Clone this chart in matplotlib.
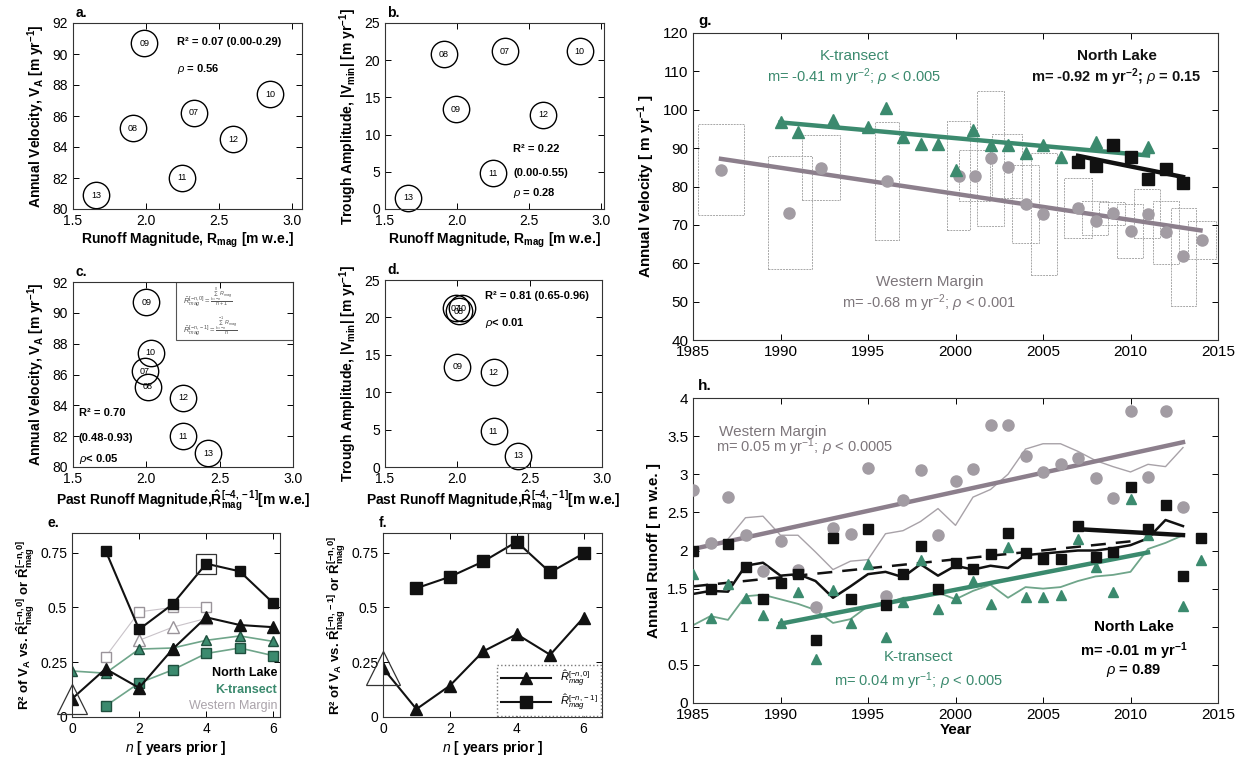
import numpy as np
import matplotlib
matplotlib.use("Agg")
import matplotlib.pyplot as plt
from matplotlib.patches import Rectangle

plt.rcParams['font.family'] = ['Liberation Sans', 'DejaVu Sans']
plt.rcParams['mathtext.fontset'] = 'custom'
plt.rcParams['mathtext.rm'] = 'Liberation Sans'
plt.rcParams['mathtext.it'] = 'Liberation Sans:italic'
plt.rcParams['mathtext.bf'] = 'Liberation Sans:bold'

# ---- panels a-d : yearly points 2007-2013 ----
yr_labels = ["07", "08", "09", "10", "11", "12", "13"]
r_mag = [2.33, 1.91, 1.99, 2.85, 2.25, 2.60, 1.66]
r_past = [1.99, 2.01, 2.00, 2.03, 2.25, 2.25, 2.42]
v_annual = [86.2, 85.2, 90.7, 87.4, 82.0, 84.5, 80.9]
trough = [21.2, 20.8, 13.4, 21.2, 4.8, 12.7, 1.5]

# ---- panel e : R2 vs n years prior ----
n_all = [0, 1, 2, 3, 4, 5, 6]
n_prior = [1, 2, 3, 4, 5, 6]
nl_tri_e = [0.083, 0.22, 0.133, 0.31, 0.455, 0.42, 0.41]
nl_sq_e = [0.76, 0.40, 0.515, 0.70, 0.665, 0.52]
kt_tri_e = [0.21, 0.20, 0.31, 0.315, 0.35, 0.37, 0.345]
kt_sq_e = [0.05, 0.155, 0.215, 0.29, 0.315, 0.28]
wm_n_sq = [1, 2, 3, 4]
wm_sq_e = [0.275, 0.48, 0.50, 0.50]
wm_n_tri = [2, 3, 4]
wm_tri_e = [0.35, 0.41, 0.45]

# ---- panel f ----
f_tri = [0.223, 0.036, 0.143, 0.30, 0.378, 0.284, 0.454]
f_sq = [0.588, 0.64, 0.71, 0.80, 0.66, 0.747]

# ---- panel g : annual velocity ----
kt_vel_years = [1990, 1991, 1993, 1995, 1996, 1997, 1998, 1999, 2000, 2001, 2002,
                2003, 2004, 2005, 2006, 2008, 2011]
kt_vel = [96.8, 94.1, 97.2, 95.6, 100.4, 92.8, 91.0, 91.0, 84.4, 94.7, 90.8,
          90.8, 88.7, 90.8, 87.7, 91.5, 90.2]
nl_vel_years = [2007, 2008, 2009, 2010, 2011, 2012, 2013]
nl_vel = [86.3, 85.3, 90.8, 87.7, 82.0, 84.6, 80.9]
wm_vel_years = [1986.6, 1990.5, 1992.3, 1996.1, 2000.2, 2001.1, 2002.0, 2003.0, 2004.0,
                2005.0, 2007.0, 2008.0, 2009.0, 2010.0, 2011.0, 2012.0, 2013.0, 2014.1]
wm_vel = [84.3, 73.1, 84.9, 81.4, 82.7, 82.8, 87.4, 85.0, 75.4,
          72.8, 74.5, 71.1, 73.1, 68.5, 72.8, 68.1, 61.9, 66.1]
box_x0 = [1985.3, 1989.3, 1991.25, 1995.4, 1999.5, 2000.2, 2001.2, 2002.1, 2003.2,
          2004.3, 2006.2, 2007.2, 2008.2, 2009.2, 2010.2, 2011.3, 2012.3, 2013.3]
box_x1 = [1987.9, 1991.8, 1993.4, 1996.75, 2000.85, 2001.95, 2002.8, 2003.8, 2004.75,
          2005.8, 2007.8, 2008.7, 2009.7, 2010.7, 2011.7, 2012.75, 2013.75, 2014.9]
box_lo = [72.5, 58.5, 76.4, 66.1, 68.6, 76.2, 69.8, 77.0, 65.2,
          57.0, 66.7, 67.3, 69.9, 61.4, 66.7, 59.7, 48.8, 61.1]
box_hi = [96.3, 87.9, 93.4, 96.7, 97.1, 89.4, 105.0, 93.7, 85.5,
          88.7, 82.2, 76.2, 76.0, 75.5, 79.3, 76.2, 74.5, 71.1]
# trend lines: start year, end year, value at start, slope
g_trend_kt = (1990, 2011, 96.7, -0.41)
g_trend_nl = (2007, 2013, 88.0, -0.92)
g_trend_wm = (1986.6, 2014, 87.2, -0.68)

# ---- panel h : annual runoff ----
h_years = list(range(1985, 2015))
nl_run = [1.99, 1.49, 2.08, 1.79, 1.36, 1.57, 1.69, 0.83, 2.17, 1.36, 2.28, 1.28, 1.69, 2.06,
          1.50, 1.84, 1.76, 1.95, 2.23, 1.97, 1.89, 1.89, 2.32, 1.92, 1.98, 2.83, 2.28, 2.60,
          1.67, 2.17]
kt_years = [1985, 1986, 1987, 1988, 1989, 1990, 1991, 1992, 1993, 1994, 1995, 1996, 1997,
            1998, 1999, 2000, 2001, 2002, 2003, 2004, 2005, 2006, 2007, 2008, 2009, 2010,
            2011, 2013, 2014]
kt_run = [1.69, 1.12, 1.56, 1.38, 1.16, 1.05, 1.46, 0.575, 1.48, 1.05, 1.82, 0.87, 1.32,
          1.88, 1.23, 1.38, 1.60, 1.30, 2.04, 1.39, 1.39, 1.42, 2.15, 1.78, 1.45, 2.68,
          2.20, 1.27, 1.88]
wm_years = list(range(1985, 2014))
wm_run = [2.79, 2.10, 2.70, 2.20, 1.73, 2.12, 1.74, 1.26, 2.30, 2.21, 3.08, 1.40, 2.66, 3.06,
          2.20, 2.91, 3.07, 3.64, 3.64, 3.24, 3.03, 3.14, 3.21, 2.95, 2.69, 3.83, 2.97, 3.83,
          2.57]
mean_years = list(range(1985, 2014))
wm_mean = [2.02, 2.05, 2.15, 2.43, 2.45, 2.20, 2.20, 1.98, 1.75, 1.86, 1.88, 2.22, 2.26, 2.38,
           2.55, 2.33, 2.70, 2.80, 3.00, 3.33, 3.40, 3.40, 3.30, 3.18, 3.10, 3.03, 3.13, 3.10,
           3.35]
nl_mean = [1.43, 1.47, 1.46, 1.80, 1.84, 1.67, 1.69, 1.60, 1.38, 1.53, 1.69, 1.72, 1.65, 1.82,
           1.67, 1.80, 1.75, 1.80, 1.77, 1.94, 1.96, 1.98, 2.00, 2.00, 2.03, 2.07, 2.16, 2.40,
           2.32]
kt_mean = [1.02, 1.14, 1.09, 1.40, 1.42, 1.36, 1.30, 1.22, 1.05, 1.10, 1.27, 1.30, 1.38, 1.40,
           1.45, 1.36, 1.47, 1.55, 1.38, 1.52, 1.50, 1.52, 1.60, 1.66, 1.68, 1.72, 2.02, 2.10,
           2.20]
h_trend_wm = (1985, 2013, 2.02, 0.05)
h_trend_kt = (1990, 2011, 1.04, 0.0445)
h_trend_nl = (2007, 2013, 2.28, -0.013)
h_trend_nl_long = (1985, 2010, 1.53, 0.0236)

GREEN = "#3b8a6e"
GREEN_LT = "#6fa58a"
GRAY_DOT = "#a29ca3"
WM_LINE = "#8c7f8c"
WM_TEXT = "#7d767b"
BLACK = "#111111"

W, H = 1253, 763
fig = plt.figure(figsize=(W / 100, H / 100), dpi=100)


def add_ax(x0, y0, x1, y1):
    return fig.add_axes([x0 / W, 1 - y1 / H, (x1 - x0) / W, (y1 - y0) / H])


def style(ax, fs=10):
    ax.tick_params(direction="in", top=True, right=True, labelsize=fs, length=4, width=0.7)
    for s in ax.spines.values():
        s.set_linewidth(0.8)
        s.set_color("#333333")


def trend(ax, t, **kw):
    x0, x1, y0, m = t
    ax.plot([x0, x1], [y0, y0 + m * (x1 - x0)], **kw)


def circles(ax, xs, ys):
    for x, y, lab in zip(xs, ys, yr_labels):
        ax.plot(x, y, "o", ms=19, mfc="none", mec="k", mew=1.0, clip_on=False)
        ax.text(x, y, lab, fontsize=6.5, ha="center", va="center")


lab_v = "Annual Velocity, $\\mathbf{V_A}$ [m yr$^{\\mathbf{-1}}$]"
lab_t = "Trough Amplitude, $\\mathbf{|V_{min}|}$ [m yr$^{\\mathbf{-1}}$]"
lab_r = "Runoff Magnitude, $\\mathbf{R_{mag}}$ [m w.e.]"
lab_p = "Past Runoff Magnitude,$\\mathbf{\\hat{R}^{[-4,-1]}_{mag}}$[m w.e.]"

# ---- a ----
ax = add_ax(73, 23, 302, 209)
circles(ax, r_mag, v_annual)
ax.set_xlim(1.5, 3.07)
ax.set_ylim(80, 92)
ax.set_xticks([1.5, 2, 2.5, 3])
ax.set_yticks(range(80, 93, 2))
ax.set_xlabel(lab_r, fontsize=10, fontweight="bold", labelpad=2)
ax.set_ylabel(lab_v, fontsize=10, fontweight="bold", labelpad=4)
ax.text(2.21, 90.8, "R² = 0.07 (0.00-0.29)", fontsize=8, fontweight="bold", va="center")
ax.text(2.21, 89.0, "$\\rho$ = 0.56", fontsize=8, fontweight="bold", va="center")
ax.text(0.01, 1.03, "a.", transform=ax.transAxes, fontsize=10, fontweight="bold")
style(ax)

# ---- b ----
ax = add_ax(385, 23, 604, 209)
circles(ax, r_mag, trough)
ax.set_xlim(1.5, 3.02)
ax.set_ylim(0, 25)
ax.set_xticks([1.5, 2, 2.5, 3])
ax.set_xlabel(lab_r, fontsize=10, fontweight="bold", labelpad=2)
ax.set_ylabel(lab_t, fontsize=10, fontweight="bold", labelpad=4)
ax.text(2.39, 8.0, "R² = 0.22", fontsize=8, fontweight="bold", va="center")
ax.text(2.39, 4.8, "(0.00-0.55)", fontsize=8, fontweight="bold", va="center")
ax.text(2.39, 2.2, "$\\rho$ = 0.28", fontsize=8, fontweight="bold", va="center")
ax.text(0.01, 1.03, "b.", transform=ax.transAxes, fontsize=10, fontweight="bold")
style(ax)

# ---- c ----
ax = add_ax(73, 282, 293, 467)
circles(ax, r_past, v_annual)
ax.set_xlim(1.5, 3)
ax.set_ylim(80, 92)
ax.set_xticks([1.5, 2, 2.5, 3])
ax.set_yticks(range(80, 93, 2))
ax.set_xlabel(lab_p, fontsize=10, fontweight="bold", labelpad=2)
ax.set_ylabel(lab_v, fontsize=10, fontweight="bold", labelpad=4)
ax.text(1.54, 83.5, "R² = 0.70", fontsize=8, fontweight="bold", va="center")
ax.text(1.54, 81.9, "(0.48-0.93)", fontsize=8, fontweight="bold", va="center")
ax.text(1.54, 80.5, "$\\rho$< 0.05", fontsize=8, fontweight="bold", va="center")
ax.add_patch(Rectangle((0.47, 0.685), 0.53, 0.315, transform=ax.transAxes,
                       fill=False, ec="#555555", lw=0.8))
ax.text(0.50, 0.92, "$\\hat{R}^{[-n,0]}_{mag}=\\frac{\\sum_{k=-n}^{0}R_{mag}}{n+1}$",
        transform=ax.transAxes, fontsize=5.5, color="#555555", va="center")
ax.text(0.50, 0.76, "$\\hat{R}^{[-n,-1]}_{mag}=\\frac{\\sum_{k=-n}^{-1}R_{mag}}{n}$",
        transform=ax.transAxes, fontsize=5.5, color="#555555", va="center")
ax.text(0.01, 1.03, "c.", transform=ax.transAxes, fontsize=10, fontweight="bold")
style(ax)

# ---- d ----
ax = add_ax(385, 280, 602, 467)
circles(ax, r_past, trough)
ax.set_xlim(1.5, 3)
ax.set_ylim(0, 25)
ax.set_xticks([1.5, 2, 2.5, 3])
ax.set_xlabel(lab_p, fontsize=10, fontweight="bold", labelpad=2)
ax.set_ylabel(lab_t, fontsize=10, fontweight="bold", labelpad=4)
ax.text(2.19, 22.9, "R² = 0.81 (0.65-0.96)", fontsize=8, fontweight="bold", va="center")
ax.text(2.19, 19.3, "$\\rho$< 0.01", fontsize=8, fontweight="bold", va="center")
ax.text(0.01, 1.03, "d.", transform=ax.transAxes, fontsize=10, fontweight="bold")
style(ax)

# ---- e ----
ax = add_ax(72, 533, 280, 717)
ax.plot(wm_n_sq, wm_sq_e, "-s", color="#c9c3c9", mfc="white", mec="#9a949a", ms=7, lw=0.8)
ax.plot(wm_n_tri, wm_tri_e, "-^", color="#c9c3c9", mfc="white", mec="#9a949a", ms=8, lw=0.8)
ax.plot(n_all, kt_tri_e, "-^", color=GREEN_LT, mfc=GREEN, mec="#1f4f3e", ms=7.5, lw=1.2)
ax.plot(n_prior, kt_sq_e, "-s", color=GREEN_LT, mfc=GREEN, mec="#1f4f3e", ms=6.5, lw=1.2)
ax.plot(n_all, nl_tri_e, "-^", color=BLACK, mfc=BLACK, ms=8, lw=1.5)
ax.plot(n_prior, nl_sq_e, "-s", color=BLACK, mfc=BLACK, ms=7, lw=1.5)
ax.plot(n_all[0], nl_tri_e[0], "^", ms=22, mfc="none", mec="#333333", mew=0.9, clip_on=False)
ax.plot(n_prior[3], nl_sq_e[3], "s", ms=15, mfc="none", mec="#333333", mew=0.9)
ax.set_xlim(0, 6.2)
ax.set_ylim(0, 0.84)
ax.set_xticks([0, 2, 4, 6])
ax.set_yticks([0, 0.25, 0.5, 0.75])
ax.set_yticklabels(["0", "0.25", "0.5", "0.75"])
ax.text(6.12, 0.20, "North Lake", fontsize=9, fontweight="bold", ha="right", va="center")
ax.text(6.12, 0.125, "K-transect", fontsize=9, fontweight="bold", color=GREEN,
        ha="right", va="center")
ax.text(6.12, 0.05, "Western Margin", fontsize=9, color="#aaa3aa", ha="right", va="center")
ax.set_xlabel("$\\mathbf{\\mathit{n}}$ [ years prior ]", fontsize=10, fontweight="bold",
              labelpad=2)
ax.set_ylabel("R² of $\\mathbf{V_A}$ vs. $\\mathbf{\\hat{R}^{[-n,0]}_{mag}}$ or "
              "$\\mathbf{\\hat{R}^{[-n,0]}_{mag}}$", fontsize=9.5, fontweight="bold",
              labelpad=2)
ax.text(-0.12, 1.03, "e.", transform=ax.transAxes, fontsize=10, fontweight="bold")
style(ax)

# ---- f ----
ax = add_ax(383, 533, 602, 717)
ax.plot(n_all, f_tri, "-^", color=BLACK, mfc=BLACK, ms=9, lw=1.5,
        label="$\\hat{R}^{[-n,0]}_{mag}$")
ax.plot(n_prior, f_sq, "-s", color=BLACK, mfc=BLACK, ms=8, lw=1.5,
        label="$\\hat{R}^{[-n,-1]}_{mag}$")
ax.plot(n_all[0], f_tri[0], "^", ms=24, mfc="none", mec="#333333", mew=0.9, clip_on=False)
ax.plot(n_prior[3], f_sq[3], "s", ms=16, mfc="none", mec="#333333", mew=0.9)
ax.set_xlim(0, 6.55)
ax.set_ylim(0, 0.84)
ax.set_xticks([0, 2, 4, 6])
ax.set_yticks([0, 0.25, 0.5, 0.75])
ax.set_yticklabels(["0", "0.25", "0.5", "0.75"])
leg = ax.legend(loc="lower right", fontsize=8, handlelength=4.5, borderpad=0.3,
                labelspacing=0.3, fancybox=False, framealpha=1, borderaxespad=0.1)
leg.get_frame().set_edgecolor("#777777")
leg.get_frame().set_linestyle(":")
ax.set_xlabel("$\\mathbf{\\mathit{n}}$ [ years prior ]", fontsize=10, fontweight="bold",
              labelpad=2)
ax.set_ylabel("R² of $\\mathbf{V_A}$ vs. $\\mathbf{\\hat{R}^{[-n,-1]}_{mag}}$ or "
              "$\\mathbf{\\hat{R}^{[-n,0]}_{mag}}$", fontsize=9.5, fontweight="bold",
              labelpad=2)
ax.text(-0.02, 1.03, "f.", transform=ax.transAxes, fontsize=10, fontweight="bold")
style(ax)

# ---- g ----
ax = add_ax(693, 33, 1218, 340)
for x0, x1, lo, hi in zip(box_x0, box_x1, box_lo, box_hi):
    ax.add_patch(Rectangle((x0, lo), x1 - x0, hi - lo, fill=False, ec="#a8a8a8",
                           lw=0.7, ls=(0, (2, 1)), zorder=1))
trend(ax, g_trend_wm, color=WM_LINE, lw=3.2, zorder=2)
trend(ax, g_trend_kt, color=GREEN, lw=3.2, zorder=2)
trend(ax, g_trend_nl, color=BLACK, lw=3.2, zorder=2)
ax.plot(wm_vel_years, wm_vel, "o", color=GRAY_DOT, ms=8, zorder=3)
ax.plot(kt_vel_years, kt_vel, "^", color=GREEN, ms=8.5, zorder=3)
ax.plot(nl_vel_years, nl_vel, "s", color=BLACK, ms=8, zorder=4)
ax.set_xlim(1985, 2015)
ax.set_ylim(40, 120)
ax.set_yticks(range(40, 121, 10))
ax.text(1994.2, 113.9, "K-transect", color=GREEN, fontsize=11, ha="center", va="center")
ax.text(1994.2, 108.6, "m= -0.41 m yr$^{-2}$; $\\rho$ < 0.005", color=GREEN, fontsize=10.5,
        ha="center", va="center")
ax.text(2009.2, 113.9, "North Lake", color=BLACK, fontsize=11, fontweight="bold",
        ha="center", va="center")
ax.text(2009.2, 108.6, "m= -0.92 m yr$^{\\mathbf{-2}}$; $\\rho$ = 0.15", color=BLACK,
        fontsize=10.5, fontweight="bold", ha="center", va="center")
ax.text(1998.5, 55.0, "Western Margin", color=WM_TEXT, fontsize=11, ha="center", va="center")
ax.text(1998.5, 49.7, "m= -0.68 m yr$^{-2}$; $\\rho$ < 0.001", color=WM_TEXT, fontsize=10.5,
        ha="center", va="center")
ax.set_ylabel("Annual Velocity [ m yr$^{\\mathbf{-1}}$ ]", fontsize=11, fontweight="bold")
ax.text(0.01, 1.025, "g.", transform=ax.transAxes, fontsize=11, fontweight="bold")
style(ax, 11)

# ---- h ----
ax = add_ax(693, 398, 1218, 703)
ax.plot(mean_years, wm_mean, "-", color="#a8a2a8", lw=1.0, zorder=2)
ax.plot(mean_years, kt_mean, "-", color=GREEN_LT, lw=1.3, zorder=2)
ax.plot(mean_years, nl_mean, "-", color=BLACK, lw=1.8, zorder=2)
trend(ax, h_trend_nl_long, color=BLACK, lw=1.8, ls=(0, (6, 4)), zorder=2)
trend(ax, h_trend_wm, color=WM_LINE, lw=3.2, zorder=3)
trend(ax, h_trend_kt, color=GREEN, lw=3.2, zorder=3)
trend(ax, h_trend_nl, color=BLACK, lw=3.2, zorder=3)
ax.plot(wm_years, wm_run, "o", color=GRAY_DOT, ms=8, zorder=4)
ax.plot(kt_years, kt_run, "^", color=GREEN, ms=7.5, zorder=4)
ax.plot(h_years, nl_run, "s", color=BLACK, ms=7.5, zorder=5)
ax.set_xlim(1985, 2015)
ax.set_ylim(0, 4)
ax.set_yticks([0, 0.5, 1, 1.5, 2, 2.5, 3, 3.5, 4])
ax.set_yticklabels(["0", "0.5", "1", "1.5", "2", "2.5", "3", "3.5", "4"])
ax.text(1986.5, 3.55, "Western Margin", color=WM_TEXT, fontsize=11, ha="left", va="center")
ax.text(1986.3, 3.36, "m= 0.05 m yr$^{-1}$; $\\rho$ < 0.0005", color=WM_TEXT, fontsize=10.5,
        ha="left", va="center")
ax.text(1997.9, 0.60, "K-transect", color=GREEN, fontsize=11, ha="center", va="center")
ax.text(1997.9, 0.29, "m= 0.04 m yr$^{-1}$; $\\rho$ < 0.005", color=GREEN, fontsize=10.5,
        ha="center", va="center")
ax.text(2010.2, 1.0, "North Lake", fontsize=11, fontweight="bold", ha="center", va="center")
ax.text(2010.2, 0.68, "m= -0.01 m yr$^{\\mathbf{-1}}$", fontsize=10.5, fontweight="bold",
        ha="center", va="center")
ax.text(2010.2, 0.42, "$\\rho$ = 0.89", fontsize=10.5, fontweight="bold",
        ha="center", va="center")
ax.set_xlabel("Year", fontsize=11, fontweight="bold", labelpad=1)
ax.set_ylabel("Annual Runoff [ m w.e. ]", fontsize=11, fontweight="bold")
ax.text(0.01, 1.025, "h.", transform=ax.transAxes, fontsize=11, fontweight="bold")
style(ax, 11)

fig.savefig("out.png", dpi=100)
